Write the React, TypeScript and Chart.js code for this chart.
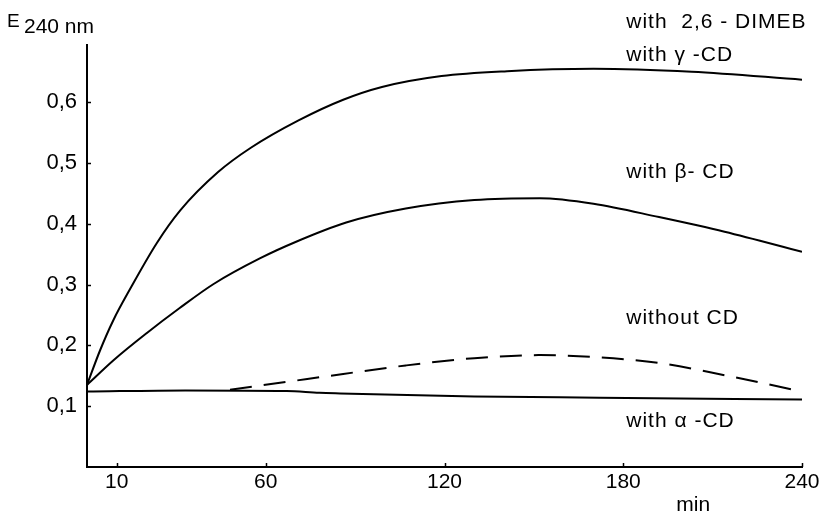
import React, { useEffect, useRef } from 'react';
import { Chart, registerables } from 'chart.js';

Chart.register(...registerables);

// ---- data (time in min, extinction at 240 nm) ----
const xTicks = [10, 60, 120, 180, 240];
const yTicks = [0.1, 0.2, 0.3, 0.4, 0.5, 0.6];

const gammaTime = [0, 4.4, 8.8, 14.5, 23.4, 31.3, 44, 55, 71, 86, 99, 119, 141, 170, 203, 240];
const gammaE = [0.135, 0.192, 0.241, 0.293, 0.368, 0.422, 0.485, 0.525, 0.57, 0.604, 0.625, 0.643, 0.651, 0.655, 0.65, 0.637];

const betaTime = [0, 9, 20, 31, 42.5, 58, 70, 87, 107, 130, 152, 170, 192, 214, 240];
const betaE = [0.135, 0.176, 0.22, 0.261, 0.301, 0.343, 0.37, 0.402, 0.425, 0.439, 0.442, 0.433, 0.411, 0.387, 0.354];

const noCdTime = [48, 67, 86, 107, 130, 152, 170, 192, 214, 240];
const noCdE = [0.127, 0.14, 0.153, 0.167, 0.179, 0.184, 0.181, 0.171, 0.151, 0.124];

const alphaTime = [0, 33, 67, 78, 85, 130, 172, 240];
const alphaE = [0.124, 0.126, 0.125, 0.122, 0.121, 0.116, 0.114, 0.111];

const curveLabels = ['with  2,6 - DIMEB', 'with \u03B3 -CD', 'with \u03B2- CD', 'without CD', 'with \u03B1 -CD'];
const curveLabelE = [0.731, 0.678, 0.485, 0.244, 0.076];
const LABEL_T = 181;
const X_TITLE = 'min';
const Y_TITLE_MAIN = 'E';
const Y_TITLE_SUB = '240 nm';

const toPoints = (t: number[], e: number[]) => t.map((v, i) => ({ x: v, y: e[i] }));

const REG = '"Liberation Sans", Arial, sans-serif';

const annotPlugin = {
  id: 'annot',
  afterDraw(chart: any) {
    const { ctx, chartArea, scales } = chart;
    const x = scales.x;
    const y = scales.y;
    ctx.save();
    ctx.strokeStyle = '#000';
    ctx.lineWidth = 1.5;
    yTicks.forEach((v) => {
      const py = Math.round(y.getPixelForValue(v)) + 0.5;
      ctx.beginPath();
      ctx.moveTo(chartArea.left, py);
      ctx.lineTo(chartArea.left + 4, py);
      ctx.stroke();
    });
    xTicks.forEach((v) => {
      const px = Math.round(x.getPixelForValue(v)) + 0.5;
      ctx.beginPath();
      ctx.moveTo(px, chartArea.bottom);
      ctx.lineTo(px, chartArea.bottom - 4);
      ctx.stroke();
    });

    ctx.fillStyle = '#000';
    ctx.font = '21px ' + REG;
    (ctx as any).letterSpacing = '1px';
    ctx.textBaseline = 'middle';
    ctx.textAlign = 'left';
    const lx = x.getPixelForValue(LABEL_T);
    curveLabels.forEach((txt, i) => {
      ctx.fillText(txt, lx, y.getPixelForValue(curveLabelE[i]));
    });

    (ctx as any).letterSpacing = '0px';
    ctx.textBaseline = 'alphabetic';
    ctx.font = '19px ' + REG;
    ctx.fillText(Y_TITLE_MAIN, chartArea.left - 80, 27);
    ctx.font = '21px ' + REG;
    ctx.fillText(Y_TITLE_SUB, chartArea.left - 63, 33);

    ctx.textAlign = 'center';
    ctx.font = '21px ' + REG;
    ctx.fillText(X_TITLE, x.getPixelForValue(203.5), 511);
    ctx.restore();
  },
};

export default function App() {
  const ref = useRef<HTMLCanvasElement | null>(null);
  useEffect(() => {
    if (!ref.current) return;
    const line = { borderColor: '#000', borderWidth: 2, pointRadius: 0, fill: false, cubicInterpolationMode: 'monotone' as const };
    const chart = new Chart(ref.current, {
      type: 'line',
      data: {
        datasets: [
          { ...line, label: 'with 2,6-DIMEB / with γ-CD', data: toPoints(gammaTime, gammaE) },
          { ...line, label: 'with β-CD', data: toPoints(betaTime, betaE) },
          { ...line, label: 'without CD', data: toPoints(noCdTime, noCdE), borderDash: [22, 12] },
          { ...line, label: 'with α-CD', data: toPoints(alphaTime, alphaE) },
        ],
      },
      options: {
        animation: false,
        responsive: false,
        layout: { padding: { top: 45, right: 21, left: 0, bottom: 0 } },
        plugins: { legend: { display: false }, tooltip: { enabled: false } },
        scales: {
          x: {
            type: 'linear',
            min: 0,
            max: 240,
            grid: { display: false, drawTicks: false },
            border: { display: true, color: '#000', width: 2 },
            afterBuildTicks: (s: any) => {
              s.ticks = xTicks.map((v) => ({ value: v }));
            },
            afterFit: (s: any) => {
              s.height = 49;
            },
            ticks: {
              color: '#000',
              padding: 3,
              maxRotation: 0,
              autoSkip: false,
              font: { family: REG, size: 21 },
              callback: (v: any) => String(v),
            },
          },
          y: {
            type: 'linear',
            min: 0,
            max: 0.694,
            grid: { display: false, drawTicks: false },
            border: { display: true, color: '#000', width: 2 },
            afterBuildTicks: (s: any) => {
              s.ticks = yTicks.map((v) => ({ value: v }));
            },
            afterFit: (s: any) => {
              s.width = 87;
            },
            ticks: {
              color: '#000',
              padding: 10,
              autoSkip: false,
              font: { family: REG, size: 22 },
              callback: (v: any) => Number(v).toFixed(1).replace('.', ','),
            },
          },
        },
      },
      plugins: [annotPlugin],
    });
    return () => chart.destroy();
  }, []);
  return (
    <div style={{ position: 'absolute', left: 0, top: 0, width: 823, height: 516, background: '#fff' }}>
      <canvas ref={ref} width={823} height={516} style={{ display: 'block' }} />
    </div>
  );
}
